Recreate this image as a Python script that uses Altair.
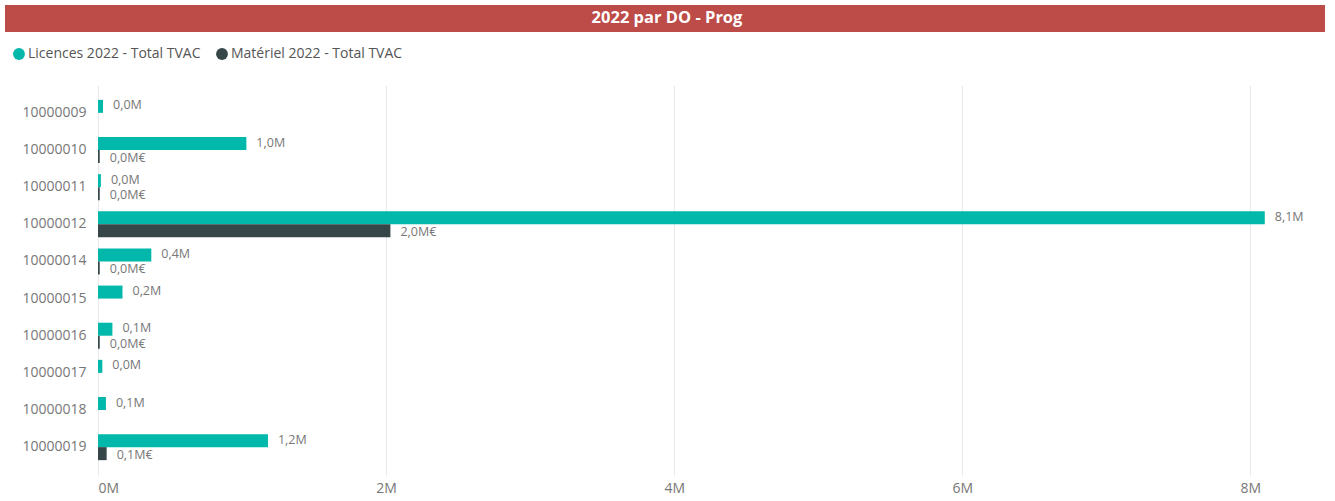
import altair as alt
import pandas as pd

categories = ['10000009', '10000010', '10000011', '10000012', '10000014',
              '10000015', '10000016', '10000017', '10000018', '10000019']
licences_m = [0.035, 1.03, 0.02, 8.1, 0.37, 0.17, 0.1, 0.03, 0.055, 1.18]
materiel_m = [None, 0.012, 0.012, 2.03, 0.012, None, 0.012, None, None, 0.06]
series = ['Licences 2022 - Total TVAC', 'Matériel 2022 - Total TVAC']
suffix = ['M', 'M€']
x_ticks = [0, 2e6, 4e6, 6e6, 8e6]
title_text = '2022 par DO - Prog'

rows = []
for s, vals, suf in zip(series, [licences_m, materiel_m], suffix):
    for c, v in zip(categories, vals):
        if v is None:
            continue
        rows.append({'cat': c, 'series': s, 'value': v * 1e6,
                     'label': f"{v:.1f}".replace('.', ',') + suf})
df = pd.DataFrame(rows)

FONT = 'Open Sans'
GRAY = '#777777'

y_enc = alt.Y('cat:N', sort=categories, title=None,
              scale=alt.Scale(domain=categories, paddingInner=0.3, paddingOuter=0.4),
              axis=alt.Axis(domain=False, ticks=False, grid=False, labelColor=GRAY,
                            labelFontSize=14, labelPadding=12, labelFont=FONT))
yoff = alt.YOffset('series:N', scale=alt.Scale(domain=series))
x_enc = alt.X('value:Q', title=None,
              scale=alt.Scale(domain=[0, 8.4e6], nice=False, zero=True),
              axis=alt.Axis(values=x_ticks, labelExpr="datum.value/1000000 + 'M'",
                            domain=False, ticks=False, gridColor='#E9E9E9',
                            labelColor=GRAY, labelFontSize=14, labelPadding=6,
                            labelFont=FONT))

bars = alt.Chart(df).mark_bar().encode(
    y=y_enc, yOffset=yoff, x=x_enc,
    color=alt.Color('series:N', scale=alt.Scale(domain=series, range=['#01B8AA', '#374649']),
                    legend=alt.Legend(title=None, orient='none', legendX=-86, legendY=-38,
                                      direction='horizontal', symbolType='circle',
                                      symbolSize=140, labelFontSize=14, labelColor='#555555',
                                      labelFont=FONT, columnPadding=14, labelOffset=2,
                                      labelLimit=400, symbolStrokeWidth=0))
)

lic_labels = alt.Chart(df).transform_filter(alt.datum.series == series[0]).mark_text(
    align='left', baseline='middle', dx=10, dy=-1, fontSize=12.5, color=GRAY, font=FONT
).encode(y=alt.Y('cat:N', sort=categories), yOffset=yoff, x='value:Q', text='label:N')

mat_labels = alt.Chart(df).transform_filter(alt.datum.series == series[1]).mark_text(
    align='left', baseline='middle', dx=10, dy=1.5, fontSize=12.5, color=GRAY, font=FONT
).encode(y=alt.Y('cat:N', sort=categories), yOffset=yoff, x='value:Q', text='label:N')

band = alt.Chart(pd.DataFrame({'t': [title_text]})).mark_rect(color='#BD4B48').encode(
    x=alt.value(-93), x2=alt.value(1227), y=alt.value(-80), y2=alt.value(-53)
)
title = alt.Chart(pd.DataFrame({'t': [title_text]})).mark_text(
    color='white', fontWeight='bold', fontSize=16.5, font=FONT, baseline='middle', align='center'
).encode(x=alt.value(569), y=alt.value(-67), text='t:N')

chart = alt.layer(bars, lic_labels, mat_labels, band, title).properties(
    width=1210, height=390,
    background='white',
    autosize=alt.AutoSizeParams(type='none'),
    padding={'left': 98, 'top': 85, 'right': 27, 'bottom': 26},
).configure_view(strokeWidth=0, stroke=None)

chart.save("out.html", embed_options={"renderer": "svg", "actions": False})
